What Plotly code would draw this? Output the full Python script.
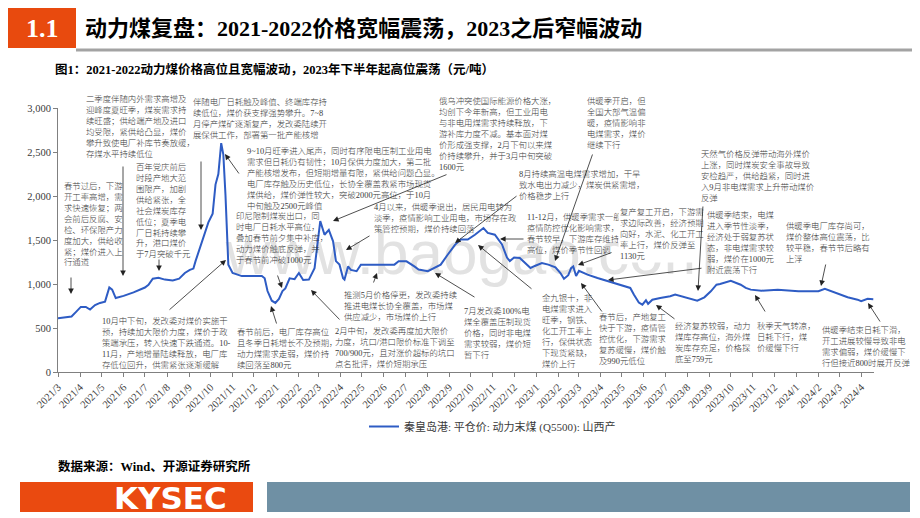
import plotly.graph_objects as go

# ---------------- data ----------------
dates = [
    "2021-03-01", "2021-03-10", "2021-03-20", "2021-03-26", "2021-04-02", "2021-04-09",
    "2021-04-15", "2021-04-22", "2021-04-29", "2021-05-06", "2021-05-09", "2021-05-12",
    "2021-05-16", "2021-05-21", "2021-06-01", "2021-06-15", "2021-07-01", "2021-07-06",
    "2021-07-12", "2021-07-20", "2021-07-29", "2021-08-09", "2021-08-18", "2021-08-26",
    "2021-09-02", "2021-09-07", "2021-09-10", "2021-09-16", "2021-09-22", "2021-09-28",
    "2021-10-04", "2021-10-08", "2021-10-12", "2021-10-16", "2021-10-19", "2021-10-22",
    "2021-10-26", "2021-11-01", "2021-11-14", "2021-12-12", "2021-12-16", "2021-12-20",
    "2021-12-26", "2021-12-31", "2022-01-05", "2022-01-10", "2022-01-14", "2022-01-20",
    "2022-01-27", "2022-02-02", "2022-02-08", "2022-02-16", "2022-02-24", "2022-03-01",
    "2022-03-04", "2022-03-10", "2022-03-16", "2022-03-22", "2022-03-26", "2022-03-31",
    "2022-04-05", "2022-04-07", "2022-04-12", "2022-04-16", "2022-04-24", "2022-04-30",
    "2022-06-16", "2022-06-22", "2022-07-03", "2022-07-14", "2022-07-20", "2022-08-02",
    "2022-08-20", "2022-08-30", "2022-09-09", "2022-09-17", "2022-09-27", "2022-10-07",
    "2022-10-19", "2022-10-25", "2022-11-04", "2022-11-14", "2022-11-21", "2022-11-25",
    "2022-12-01", "2022-12-09", "2022-12-16", "2022-12-24", "2022-12-30", "2023-01-09",
    "2023-01-18", "2023-01-28", "2023-02-04", "2023-02-09", "2023-02-15", "2023-02-19",
    "2023-02-22", "2023-02-26", "2023-03-02", "2023-03-14", "2023-03-28", "2023-04-11",
    "2023-04-30", "2023-05-13", "2023-05-18", "2023-05-25", "2023-05-30", "2023-06-04",
    "2023-06-07", "2023-06-13", "2023-06-24", "2023-07-08", "2023-07-15", "2023-08-01",
    "2023-08-15", "2023-08-25", "2023-09-03", "2023-09-11", "2023-09-16", "2023-10-01",
    "2023-10-15", "2023-10-22", "2023-10-29", "2023-11-13", "2023-12-06", "2024-01-04",
    "2024-02-01", "2024-02-10", "2024-03-04", "2024-03-13", "2024-03-27", "2024-04-01",
    "2024-04-10", "2024-04-18",
]
prices = [
    610, 620, 630, 680, 740, 740,
    710, 760, 785, 800, 880, 960,
    935, 840, 865, 905, 960, 990,
    1060, 1070, 1050, 1040, 1060, 1125,
    1160, 1175, 1260, 1400, 1560, 1700,
    1800, 2130, 2250, 2600, 2470, 2010,
    1220, 1125, 1090, 1090, 1065, 920,
    810, 785, 830, 920, 950, 1065,
    1055, 1125, 1045, 1050, 1180, 1520,
    1715, 1560, 1615, 1485, 1260, 1220,
    1065, 1050, 1200, 1160, 1145, 1220,
    1220, 1258, 1258, 1200, 1165, 1145,
    1220, 1335, 1445, 1505, 1505, 1560,
    1636, 1580, 1560, 1450, 1300, 1260,
    1300, 1295, 1240, 1182, 1205, 1239,
    1220, 1190, 1125, 1060, 1100, 1180,
    1200, 1090, 1150, 1106, 1068, 1035,
    992, 955, 880, 790, 765, 815,
    775, 822, 841, 860, 879, 845,
    811, 849, 917, 992, 1000, 1037,
    992, 955, 936, 924, 936, 917,
    917, 945, 879, 849, 822, 805,
    833, 828,
]
series_name = "秦皇岛港: 平仓价: 动力末煤 (Q5500): 山西产"
y_ticks = [0, 500, 1000, 1500, 2000, 2500, 3000]

# ---------------- layout helpers ----------------
PL, PR, PT, PB = 50, 866, 100, 364
WIDTH, HEIGHT = 920, 518


def px(x):
    return (x - PL) / (PR - PL)


def py(y):
    return (PB - y) / (PB - PT)


CJK = "Liberation Serif, Noto Sans CJK SC"
TXT = "#3a3a3a"
NOTE_SIZE = 8.4

annotations = []
shapes = []


def note(x, y, lines, bg=None):
    d = dict(xref="paper", yref="paper", x=px(x - 1), y=py(y - 6.5),
             xanchor="left", yanchor="top", align="left", showarrow=False,
             text="<br>".join(lines),
             font=dict(family=CJK, size=NOTE_SIZE, color=TXT, weight=300))
    if bg:
        d["bgcolor"] = bg
    annotations.append(d)


def arrow(tx, ty, hx, hy):
    annotations.append(dict(xref="paper", yref="paper", x=px(hx), y=py(hy),
                            ax=tx - hx, ay=ty - hy, axref="pixel", ayref="pixel",
                            text="", showarrow=True, arrowhead=2, arrowsize=1.4,
                            arrowwidth=0.8, arrowcolor="#222222"))


def rect(x0, y0, x1, y1, color, layer="above"):
    shapes.append(dict(type="rect", xref="paper", yref="paper",
                       x0=px(x0), x1=px(x1), y0=py(y1), y1=py(y0),
                       fillcolor=color, line=dict(width=0), layer=layer))


# ---------------- header / footer ----------------
rect(0, 0, 68, 40, "#E84A0E")
shapes.append(dict(type="line", xref="paper", yref="paper", x0=px(68), x1=px(920),
                   y0=py(42), y1=py(42), line=dict(color="#A3A3A3", width=3)))
annotations.append(dict(xref="paper", yref="paper", x=px(34), y=py(20), text="1.1",
                        showarrow=False, xanchor="center", yanchor="middle",
                        font=dict(family="Liberation Serif", size=26, color="white", weight="bold")))
annotations.append(dict(xref="paper", yref="paper", x=px(75), y=py(20),
                        text="动力煤复盘：2021-2022价格宽幅震荡，2023之后窄幅波动",
                        showarrow=False, xanchor="left", yanchor="middle",
                        font=dict(family=CJK, size=22, color="#000000", weight="bold")))
annotations.append(dict(xref="paper", yref="paper", x=px(45), y=py(62),
                        text="图1：2021-2022动力煤价格高位且宽幅波动，2023年下半年起高位震荡（元/吨）",
                        showarrow=False, xanchor="left", yanchor="middle",
                        font=dict(family=CJK, size=12.5, color="#000000", weight="bold")))
annotations.append(dict(xref="paper", yref="paper", x=px(48), y=py(458),
                        text="数据来源：Wind、开源证券研究所",
                        showarrow=False, xanchor="left", yanchor="middle",
                        font=dict(family=CJK, size=12.5, color="#000000", weight="bold")))
rect(12, 474, 245, 504, "#EA4A10")
rect(259, 474, 902, 504, "#6F90A4")
annotations.append(dict(xref="paper", yref="paper", x=px(162), y=py(490), text="KYSEC",
                        showarrow=False, xanchor="center", yanchor="middle",
                        font=dict(family="DejaVu Sans", size=31, color="white", weight="bold")))

# watermark (behind the line)
shapes.append(dict(type="rect", xref="paper", yref="paper", x0=px(215), x1=px(710),
                   y0=py(272), y1=py(205), line=dict(width=0), fillcolor="rgba(0,0,0,0)",
                   layer="below",
                   label=dict(text="www.baogao.com", font=dict(family="Liberation Sans", size=62,
                                                               color="#E2E2E2"),
                              textposition="middle center")))

# ---------------- commentary ----------------
note(77, 90, ["二季度伴随内外需求高增及", "迎峰度夏旺季，煤炭需求持", "续旺盛；供给端产地及进口",
              "均受限，紧供给凸显，煤价", "攀升致使电厂补库节奏放缓，", "存煤水平持续低位"])
note(55, 177, ["春节过后，下游", "开工率高增，需", "求快速恢复；两", "会前后反腐、安",
               "检、环保限产力", "度加大，供给收", "紧；煤价进入上", "行通道"])
note(127, 158, ["百年党庆前后", "时段产地大范", "围限产，加剧", "供给紧张，全", "社会煤炭库存",
                "低位；夏季电", "厂日耗持续攀", "升，港口煤价", "于7月突破千元"])
note(184, 93, ["伴随电厂日耗触及峰值、终端库存持", "续低位，煤价获支撑强势攀升。7~8",
               "月停产煤矿逐渐复产，发改委陆续开", "展保供工作，部署第一批产能核增"])
note(238, 142, ["9~10月旺季进入尾声，同时有序限电压制工业用电", "需求但日耗仍有韧性；10月保供力度加大，第二批",
                "产能核增发布，但短期增量有限，紧供给问题凸显。", "电厂库存触及历史低位，长协全覆盖救紧市场现货",
                "煤供给，煤价弹性较大，突破2000元高位，于10月", "中旬触及2500元峰值"])
note(227, 207, ["印尼限制煤炭出口，同", "时电厂日耗水平高位，", "叠加春节前夕集中补库，",
                "动力煤价触底反弹，并", "于春节前冲破1000元"])
note(93, 312, ["10月中下旬，发改委对煤价实施干", "预，持续加大限价力度，煤价于政",
               "策端承压，转入快速下跌通道。10-", "11月，产地增量陆续释放，电厂库",
               "存低位回升，供需紧张逐渐缓解"])
note(228, 323, ["春节前后，电厂库存高位", "且冬季日耗增长不及预期，", "动力煤需求走弱，煤价持",
                "续回落至800元"])
note(326, 322, ["2月中旬，发改委再度加大限价", "力度，坑口/港口限价标准下调至",
                "700/900元，且对涨价超标的坑口", "点名批评，煤价短期承压"])
note(335, 286, ["推测5月价格停更，发改委持续", "推进电煤长协全覆盖，市场煤", "供应减少，市场煤价上行"])
note(365, 198, ["4月以来，供暖季退出，居民用电转为", "淡季，疫情影响工业用电，市场存在政",
                "策管控预期，煤价持续回落"])
note(430, 92, ["俄乌冲突使国际能源价格大涨，", "均创下今年新高，但工业用电", "与非电用煤需求持续释放，下",
               "游补库力度不减。基本面对煤", "价形成强支撑，2月下旬以来煤", "价持续攀升，并于3月中旬突破",
               "1600元"])
note(510, 165, ["8月持续高温电煤需求增加，干旱", "致水电出力减少，煤炭供紧需增，", "价格稳步上行"])
note(578, 92, ["供暖季开启，但", "全国大部气温偏", "暖，疫情影响非", "电煤需求，煤价", "继续下行"])
note(518, 208, ["11-12月，供暖季需求一般，", "疫情防控优化影响需求，", "春节较早，下游库存维持",
                "高位，煤价季节性回调"])
note(611, 203, ["复产复工开启，下游需", "求边际改善，经济预期", "向好，水泥、化工开工",
                "率上行，煤价反弹至", "1130元"], bg="white")
note(692, 145, ["天然气价格反弹带动海外煤价", "上涨，同时煤炭安全事故导致", "安检趋严，供给趋紧，同时进",
                "入9月非电煤需求上升带动煤价", "反弹"])
note(698, 206, ["供暖季结束，电煤", "进入季节性淡季，", "经济处于弱复苏状", "态，非电煤需求较",
                "弱，煤价在1000元", "附近震荡下行"])
note(777, 217, ["供暖季电厂库存尚可，", "煤价整体高位震荡，比", "较平稳，春节节后略有", "上浮"])
note(533, 289, ["金九银十，非", "电煤需求进入", "旺季，钢铁、", "化工开工率上", "行，保供状态",
                "下现货紧缺，", "煤价上行"])
note(455, 302, ["7月发改委100%电", "煤全覆盖压制现货", "价格，同时非电煤", "需求较弱，煤价短", "暂下行"])
note(590, 308, ["春节后，产地复工", "快于下游，疫情管", "控优化，下游需求", "复苏缓慢，煤价触", "及990元低位"])
note(666, 317, ["经济复苏较弱，动力", "煤库存高位，海外煤", "炭库存充足，价格探", "底至759元"])
note(748, 317, ["秋季天气转凉，", "日耗下行，煤", "价缓慢下行"])
note(813, 321, ["供暖季结束日耗下滑，", "开工进展较慢导致非电", "需求偏弱，煤价缓慢下",
                "行但接近800时展开反弹"])

arrow(115, 157, 115, 268)
arrow(63, 268, 63, 286)
arrow(151, 250, 151, 263)
arrow(193, 152, 193, 222)
arrow(232, 167, 217, 146)
arrow(269, 266, 274, 280)
arrow(160, 303, 218, 252)
arrow(269, 317, 263, 298)
arrow(333, 313, 303, 282)
arrow(365, 276, 369, 265)
arrow(363, 227, 338, 242)
arrow(440, 166, 325, 213)
arrow(510, 187, 447, 235)
arrow(585, 145, 547, 253)
arrow(517, 231, 492, 231)
arrow(605, 244, 570, 257)
arrow(695, 197, 690, 283)
arrow(695, 260, 600, 272)
arrow(818, 255, 813, 278)
arrow(525, 282, 470, 237)
arrow(468, 290, 427, 265)
arrow(595, 305, 573, 275)
arrow(668, 312, 648, 297)
arrow(758, 305, 747, 287)
arrow(873, 315, 860, 295)

# ---------------- figure ----------------
fig = go.Figure()
fig.add_trace(go.Scatter(x=dates, y=prices, mode="lines", name=series_name,
                         line=dict(color="#2E5CC4", width=2)))

fig.update_layout(
    width=WIDTH, height=HEIGHT, autosize=False,
    margin=dict(l=PL, r=WIDTH - PR, t=PT, b=HEIGHT - PB, pad=0),
    paper_bgcolor="white", plot_bgcolor="white",
    showlegend=True,
    legend=dict(x=px(356), y=py(404), xanchor="left", yanchor="top", orientation="h",
                font=dict(family=CJK, size=11, color=TXT), itemwidth=30,
                bgcolor="rgba(0,0,0,0)"),
    annotations=annotations, shapes=shapes,
)
fig.update_xaxes(type="date", range=["2021-03-01", "2024-04-19"], dtick="M1",
                 tick0="2021-03-01", tickformat="%Y/%-m", tickangle=-45,
                 ticks="outside", ticklen=4, tickcolor="#808080",
                 showline=True, linecolor="#808080", linewidth=1, showgrid=False,
                 zeroline=False, automargin=False,
                 tickfont=dict(family="Liberation Serif", size=10.5, color=TXT))
fig.update_yaxes(range=[0, 3000], tickvals=y_ticks, tickformat=",",
                 ticks="outside", ticklen=4, tickcolor="#808080",
                 showline=True, linecolor="#808080", linewidth=1, showgrid=False,
                 zeroline=False, automargin=False,
                 tickfont=dict(family="Liberation Serif", size=10.5, color=TXT))

fig.write_html("out.html")
